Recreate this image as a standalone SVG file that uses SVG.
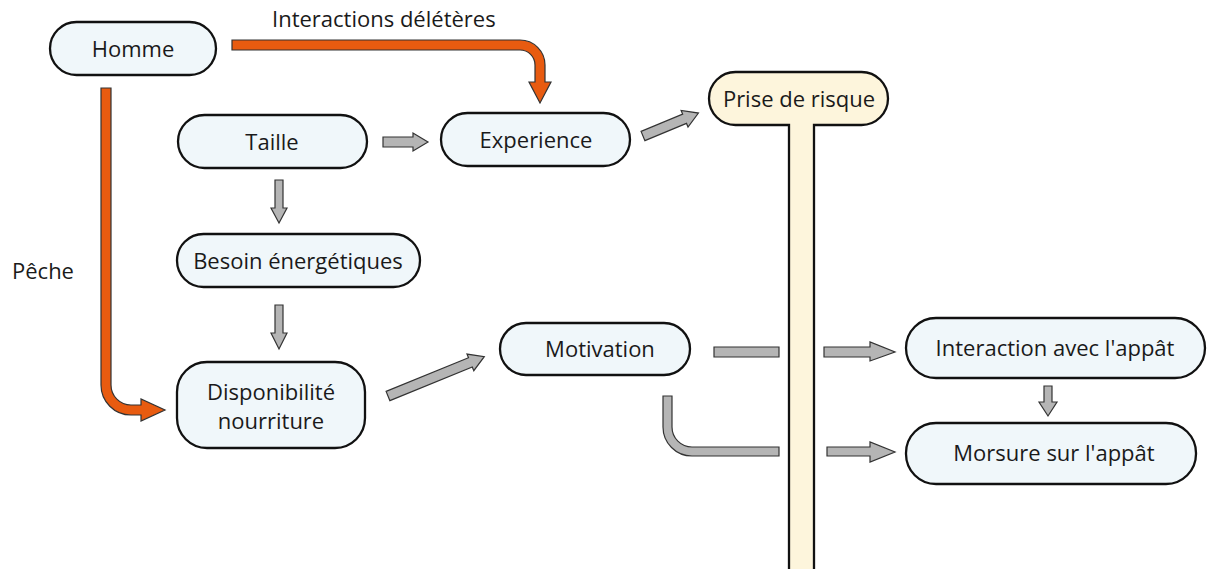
<svg xmlns="http://www.w3.org/2000/svg" width="1207" height="569" viewBox="0 0 1207 569">
<style>
.node{fill:#f0f7fa;stroke:#111;stroke-width:2.3}
.risk{fill:#fdf5dc;stroke:#111;stroke-width:2.3}
.t{font-family:"Open Sans","Liberation Sans",sans-serif;font-size:22px;fill:#1a1a1a;text-anchor:middle;dominant-baseline:central}
.lbl{font-family:"Open Sans","Liberation Sans",sans-serif;font-size:22px;fill:#1a1a1a}
.g{fill:#b5b5b5;stroke:#333;stroke-width:1.2}
.o{fill:#e85b10;stroke:#333;stroke-width:1.2}
</style>
<rect width="1207" height="569" fill="#fff"/>
<g id="connectors">
<path class="o" d="M232 40 H520 A25 25 0 0 1 545 65 V82 H551 L540 103 L529 82 H535 V65 A15 15 0 0 0 520 50 H232 Z"/>
<path class="o" d="M101 88 H111 V385 A20 20 0 0 0 131 405 H141 V399 L165 410 L141 421 V415 H131 A30 30 0 0 1 101 385 Z"/>
<path class="g" d="M383 137 H413 V133 L428 142 L413 151 V147 H383 Z"/>
<path class="g" transform="translate(643,136) rotate(-22.5)" d="M0 -5 H45 V-9 L60 0 L45 9 V5 H0 Z"/>
<path class="g" transform="translate(388,396) rotate(-22.2)" d="M0 -5 H89 V-9 L104 0 L89 9 V5 H0 Z"/>
<path class="g" d="M275 180 H283 V208 H287 L279 223 L271 208 H275 Z"/>
<path class="g" d="M275 305 H283 V333 H287 L279 349 L271 333 H275 Z"/>
<path class="g" d="M714 347 H779 V357 H714 Z"/>
<path class="g" d="M824 347 H870 V342 L895 352 L870 361 V357 H824 Z"/>
<path class="g" d="M663 396 H672 V427 A20 20 0 0 0 692 447 H779 V456 H692 A29 29 0 0 1 663 427 Z"/>
<path class="g" d="M827 447 H870 V442 L895 452 L870 462 V456 H827 Z"/>
<path class="g" d="M1044 386 H1052 V402 H1057 L1048 416 L1039 402 H1044 Z"/>
</g>
<text class="lbl" x="272" y="27">Interactions délétères</text>
<text class="lbl" x="12" y="279">Pêche</text>
<g id="homme"><rect class="node" x="50" y="22" width="166" height="53" rx="26.5"/><text class="t" x="133" y="48">Homme</text></g>
<g id="taille"><rect class="node" x="178" y="115" width="189" height="53" rx="26.5"/><text class="t" x="272" y="141">Taille</text></g>
<g id="experience"><rect class="node" x="441" y="113" width="189" height="53" rx="26.5"/><text class="t" x="536" y="139">Experience</text></g>
<g id="prise"><path class="risk" d="M735.5 72 H861.5 A26.5 26.5 0 0 1 861.5 125 H814 V575 H789 V125 H735.5 A26.5 26.5 0 0 1 735.5 72 Z"/><text class="t" x="799" y="98">Prise de risque</text></g>
<g id="besoin"><rect class="node" x="177" y="234" width="243" height="53" rx="26.5"/><text class="t" x="298" y="260">Besoin énergétiques</text></g>
<g id="disponibilite"><rect class="node" x="177" y="362" width="188" height="86" rx="30"/><text class="t" x="271" y="391">Disponibilité</text><text class="t" x="271" y="420">nourriture</text></g>
<g id="motivation"><rect class="node" x="500" y="323" width="190" height="52" rx="26"/><text class="t" x="600" y="348">Motivation</text></g>
<g id="interaction"><rect class="node" x="906" y="318" width="299" height="60" rx="30"/><text class="t" x="1055" y="347">Interaction avec l'appât</text></g>
<g id="morsure"><rect class="node" x="906" y="423" width="290" height="61" rx="30"/><text class="t" x="1054" y="452">Morsure sur l'appât</text></g>
</svg>
